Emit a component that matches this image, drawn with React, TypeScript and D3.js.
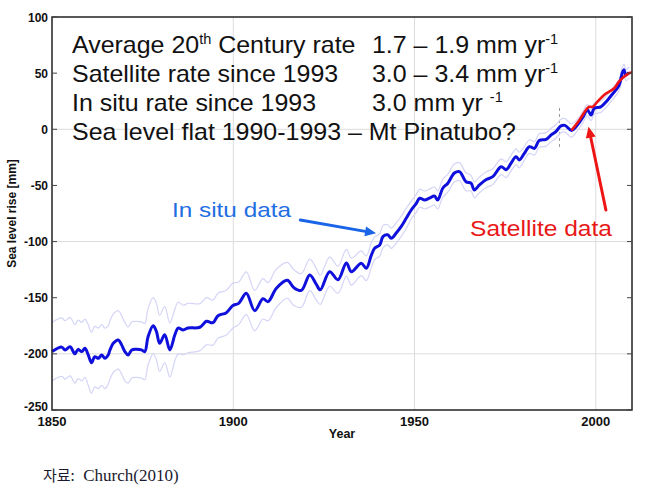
import { useEffect, useRef } from "react";
import * as d3 from "d3";

// In situ reconstruction (Church & White)
const inSituYears = [
	1850, 1852.7, 1853.6, 1855, 1856.3, 1857.2, 1858.2, 1859.1, 1860, 1860.9,
	1861.8, 1862.8, 1863.7, 1864.6, 1865.5, 1866, 1866.9, 1868.3, 1869.2, 1870.1,
	1871, 1872, 1873.3, 1874.7, 1875.6, 1876.5, 1877.9, 1878.8, 1879.7, 1881.1,
	1882.5, 1883.9, 1884.8, 1886.2, 1887.5, 1890.8, 1892.6, 1894.4, 1895.8, 1898.1,
	1899.9, 1901.5, 1903.6, 1905.9, 1908.2, 1909.6, 1911.9, 1914.9, 1916.7, 1918.8,
	1921.1, 1922.9, 1924, 1926.6, 1928.9, 1931.2, 1932.6, 1935.3, 1936.7, 1938.1,
	1939, 1940.4, 1941.3, 1942.6, 1943.6, 1944.9, 1946.3, 1947.7, 1949.1, 1950.5,
	1951.4, 1952.8, 1954.1, 1955.5, 1956.4, 1957.8, 1959.2, 1961, 1962.4, 1964.2,
	1965.6, 1966.5, 1967.9, 1969.7, 1971.6, 1973.9, 1975.3, 1976.6, 1978, 1978.9,
	1980.3, 1981.7, 1983.1, 1984.4, 1986.3, 1987.7, 1989, 1990.4, 1991.5, 1993.3,
	1995, 1996.4, 1997.7, 1998.7, 1999.6, 2001.4, 2003, 2004.5, 2006.4, 2007.3,
	2007.8, 2008.3, 2009.2,
];
const inSituLevel = [
	-198, -194, -196.5, -193.6, -200, -196, -198, -195, -201, -208,
	-202.5, -204, -201, -204, -201, -196.5, -190.6, -187.6, -192, -198,
	-201, -196.5, -196, -196.5, -198, -184.7, -175, -180, -190.6, -183,
	-196.5, -183, -177, -178.7, -177, -176.3, -171, -172.2, -166, -163.3,
	-157, -155, -146, -161.5, -151, -153.5, -141.6, -134.5, -141, -143.5,
	-129.7, -138, -143, -126.8, -134, -119, -126.8, -119.3, -123.8, -112,
	-106, -103, -95.6, -94, -97, -92.6, -86.7, -79.3, -71.9, -66,
	-61.4, -63, -61.4, -59.4, -63, -52.5, -48, -39, -37.7, -46.7,
	-48, -54, -49.6, -45, -42.2, -33.3, -36, -30.3, -24.4, -27.3,
	-21.4, -15.5, -17, -10, -9, -5, -2, 3, 3.5, -1,
	4, 10.5, 17.2, 12.7, 18.7, 20, 25, 31, 39, 50,
	53, 48.4, 50.5,
];
// half width of the uncertainty envelope
const inSituError = [
	26, 26, 26, 26, 26, 26, 26, 26, 27, 27,
	27, 27, 27, 27, 26, 26, 26, 26, 26, 26,
	25, 25, 25, 25, 25, 25, 25, 25, 25, 25,
	24, 23, 23, 22, 22, 21, 21, 20, 20, 20,
	20, 19, 19, 18, 18, 17, 17, 16, 16, 15,
	14, 14, 13, 13, 12, 12, 12, 11, 11, 11,
	10, 10, 10, 9, 9, 9, 9, 9, 8, 8,
	8, 8, 8, 8, 8, 8, 8, 8, 8, 8,
	7, 7, 7, 7, 7, 7, 7, 7, 7, 7,
	6, 6, 6, 6, 6, 6, 6, 6, 6, 6,
	5, 5, 5, 5, 5, 5, 5, 5, 5, 5,
	5, 5, 5,
];

// Satellite altimetry
const satYears = [1993.3, 1995.5, 1997.3, 1998.2, 1999.1, 2000.5, 2002.3, 2003.7, 2005.1, 2006.4, 2007.8, 2009.2, 2010];
const satLevel = [-1, 8.3, 17.2, 20, 20, 24.6, 30.5, 33.5, 36.5, 42.4, 46.8, 49.9, 50.5];

const xTicks = [1850, 1900, 1950, 2000];
const xGrid = [1900, 1950, 2000];
const yTicks = [-250, -200, -150, -100, -50, 0, 50, 100];
const yGrid = [-200, -100, 0];

const WIDTH = 653;
const HEIGHT = 497;
const FONT = "'Liberation Sans', Arial, sans-serif";

export default function App() {
	const svgRef = useRef<SVGSVGElement>(null);

	useEffect(() => {
		document.body.style.margin = "0";
		if (!svgRef.current) return;
		const svg = d3.select(svgRef.current);
		svg.selectAll("*").remove();

		const margin = { top: 17, right: 21, bottom: 87, left: 52 };
		const width = WIDTH - margin.left - margin.right;
		const height = HEIGHT - margin.top - margin.bottom;

		const x = d3.scaleLinear().domain([1850, 2010]).range([0, width]);
		const y = d3.scaleLinear().domain([-250, 100]).range([height, 0]);

		const g = svg
			.append("g")
			.attr("transform", `translate(${margin.left},${margin.top})`);

		// grid
		g.selectAll(".vgrid")
			.data(xGrid)
			.join("line")
			.attr("x1", (d) => x(d))
			.attr("x2", (d) => x(d))
			.attr("y1", 0)
			.attr("y2", height)
			.attr("stroke", "#dcdcdc")
			.attr("stroke-width", 1);
		g.selectAll(".hgrid")
			.data(yGrid)
			.join("line")
			.attr("x1", 0)
			.attr("x2", width)
			.attr("y1", (d) => y(d))
			.attr("y2", (d) => y(d))
			.attr("stroke", "#dcdcdc")
			.attr("stroke-width", 1);

		// dashed marker at 1990
		g.append("line")
			.attr("x1", x(1990))
			.attr("x2", x(1990))
			.attr("y1", y(19))
			.attr("y2", y(-18))
			.attr("stroke", "#999")
			.attr("stroke-width", 1)
			.attr("stroke-dasharray", "3,3");

		const idx = d3.range(inSituYears.length);
		const curve = d3.curveCatmullRom.alpha(0.5);

		const upper = d3
			.line<number>()
			.x((i) => x(inSituYears[i]))
			.y((i) => y(inSituLevel[i] + inSituError[i]))
			.curve(curve);
		const lower = d3
			.line<number>()
			.x((i) => x(inSituYears[i]))
			.y((i) => y(inSituLevel[i] - inSituError[i]))
			.curve(curve);

		[upper, lower].forEach((ln) => {
			g.append("path")
				.datum(idx)
				.attr("fill", "none")
				.attr("stroke", "#d4d4f7")
				.attr("stroke-width", 1.2)
				.attr("d", ln);
		});

		const main = d3
			.line<number>()
			.x((i) => x(inSituYears[i]))
			.y((i) => y(inSituLevel[i]))
			.curve(curve);
		g.append("path")
			.datum(idx)
			.attr("fill", "none")
			.attr("stroke", "#1010dc")
			.attr("stroke-width", 3)
			.attr("stroke-linejoin", "round")
			.attr("d", main);

		const sat = d3
			.line<number>()
			.x((i) => x(satYears[i]))
			.y((i) => y(satLevel[i]))
			.curve(curve);
		g.append("path")
			.datum(d3.range(satYears.length))
			.attr("fill", "none")
			.attr("stroke", "#ee1515")
			.attr("stroke-width", 2.6)
			.attr("d", sat);

		// box + inward ticks
		g.append("rect")
			.attr("width", width)
			.attr("height", height)
			.attr("fill", "none")
			.attr("stroke", "#222")
			.attr("stroke-width", 1.5);

		yTicks.forEach((t) => {
			g.append("line")
				.attr("x1", 0).attr("x2", 5)
				.attr("y1", y(t)).attr("y2", y(t))
				.attr("stroke", "#444");
			g.append("line")
				.attr("x1", width - 5).attr("x2", width)
				.attr("y1", y(t)).attr("y2", y(t))
				.attr("stroke", "#444");
			g.append("text")
				.attr("x", -4)
				.attr("y", y(t))
				.attr("dy", t === -250 ? "0.1em" : "0.38em")
				.attr("text-anchor", "end")
				.attr("font-family", FONT)
				.attr("font-weight", "bold")
				.attr("font-size", 12)
				.attr("fill", "#111")
				.text(t);
		});
		xTicks.forEach((t) => {
			g.append("text")
				.attr("x", x(t))
				.attr("y", height + 16)
				.attr("text-anchor", "middle")
				.attr("font-family", FONT)
				.attr("font-weight", "bold")
				.attr("font-size", 13)
				.attr("fill", "#111")
				.text(t);
		});

		g.append("text")
			.attr("x", width / 2)
			.attr("y", height + 28)
			.attr("text-anchor", "middle")
			.attr("font-family", FONT)
			.attr("font-weight", "bold")
			.attr("font-size", 12.5)
			.attr("fill", "#111")
			.text("Year");

		svg.append("text")
			.attr("transform", `translate(16,${margin.top + height / 2}) rotate(-90)`)
			.attr("text-anchor", "middle")
			.attr("font-family", FONT)
			.attr("font-weight", "bold")
			.attr("font-size", 12)
			.attr("fill", "#111")
			.text("Sea level rise [mm]");

		// annotation block (slightly stretched horizontally, like the source)
		const note = svg
			.append("g")
			.attr("transform", "translate(72,0) scale(1.04,1) translate(-72,0)");
		const col2x = 72 + (372 - 72) / 1.04;
		const lines: { col1: [string, string?, string?]; col2?: [string, string] }[] = [
			{ col1: ["Average 20", "th", " Century rate"], col2: ["1.7 \u2013 1.9 mm yr", "-1"] },
			{ col1: ["Satellite rate since 1993"], col2: ["3.0 \u2013 3.4 mm yr", "-1"] },
			{ col1: ["In situ rate since 1993"], col2: ["3.0 mm yr ", "-1"] },
			{ col1: ["Sea level flat 1990-1993 \u2013 Mt Pinatubo?"] },
		];
		lines.forEach((ln, i) => {
			const by = 53 + i * 29;
			const t1 = note
				.append("text")
				.attr("x", 72)
				.attr("y", by)
				.attr("font-family", FONT)
				.attr("font-size", 24)
				.attr("fill", "#111");
			t1.append("tspan").text(ln.col1[0]);
			if (ln.col1[1]) {
				t1.append("tspan").attr("dy", -9).attr("font-size", 14).text(ln.col1[1]);
				t1.append("tspan").attr("dy", 9).text(ln.col1[2] ?? "");
			}
			if (ln.col2) {
				const t2 = note
					.append("text")
					.attr("x", col2x)
					.attr("y", by)
					.attr("font-family", FONT)
					.attr("font-size", 24)
					.attr("fill", "#111");
				t2.append("tspan").text(ln.col2[0]);
				t2.append("tspan").attr("dy", -9).attr("font-size", 14).text(ln.col2[1]);
			}
		});

		// labels with arrows
		const arrow = (
			from: [number, number],
			to: [number, number],
			color: string
		) => {
			const x1 = x(from[0]), y1 = y(from[1]);
			const x2 = x(to[0]), y2 = y(to[1]);
			const a = Math.atan2(y2 - y1, x2 - x1);
			const len = 11, half = 5;
			const bx = x2 - len * Math.cos(a), by = y2 - len * Math.sin(a);
			g.append("line")
				.attr("x1", x1).attr("y1", y1)
				.attr("x2", bx).attr("y2", by)
				.attr("stroke", color)
				.attr("stroke-width", 3)
				.attr("stroke-linecap", "round");
			g.append("path")
				.attr(
					"d",
					`M${x2},${y2}L${bx + half * Math.sin(a)},${by - half * Math.cos(a)}L${bx - half * Math.sin(a)},${by + half * Math.cos(a)}Z`
				)
				.attr("fill", color);
		};
		arrow([1918.5, -80.8], [1939.4, -92.6], "#1a64e8");
		arrow([2002.8, -71.9], [1998, 2.3], "#ee1515");

		svg.append("text")
			.attr("x", 172)
			.attr("y", 217)
			.attr("font-family", FONT)
			.attr("font-size", 21)
			.attr("textLength", 119)
			.attr("lengthAdjust", "spacingAndGlyphs")
			.attr("fill", "#1f6de3")
			.text("In situ data");

		svg.append("text")
			.attr("x", 470)
			.attr("y", 236)
			.attr("font-family", FONT)
			.attr("font-size", 22)
			.attr("textLength", 142)
			.attr("lengthAdjust", "spacingAndGlyphs")
			.attr("fill", "#e81818")
			.text("Satellite data");

		// source
		const src = svg
			.append("text")
			.attr("x", 43)
			.attr("y", 481)
			.attr("font-size", 17)
			.attr("fill", "#1a1a2e");
		src.append("tspan").attr("font-family", "'Noto Sans CJK KR', sans-serif").attr("font-size", 15).text("자료:");
		src.append("tspan").attr("font-family", "'Liberation Serif', 'Times New Roman', serif").text("\u00a0\u00a0Church(2010)");
	}, []);

	return <svg ref={svgRef} width={WIDTH} height={HEIGHT} style={{ display: "block", background: "#fff" }} />;
}
